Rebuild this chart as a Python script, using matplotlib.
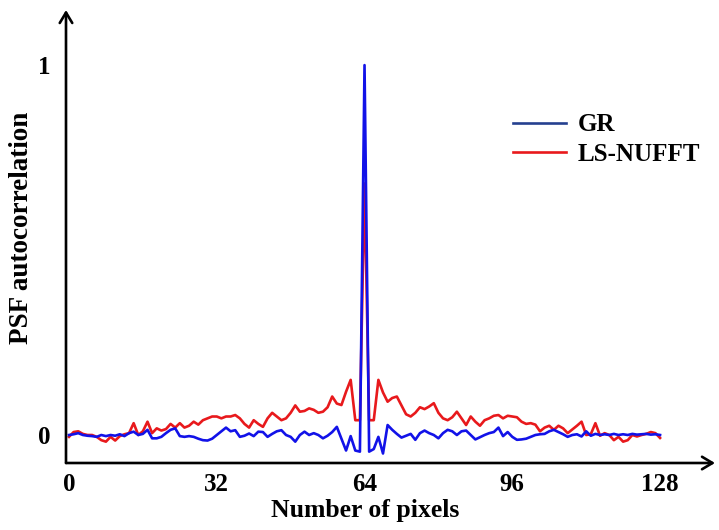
import matplotlib
matplotlib.use("Agg")
import matplotlib.pyplot as plt
from matplotlib.lines import Line2D
import numpy as np

# Pixel index along the profile
pixels = np.arange(129)

# PSF autocorrelation profile, GR method
gr = [
    0.000, 0.002, 0.005, 0.000, -0.002, -0.003, -0.005, 0.000, -0.003, 0.000,
    -0.002, 0.002, -0.003, 0.005, 0.009, 0.000, 0.003, 0.014, -0.009, -0.009,
    -0.005, 0.005, 0.014, 0.018, -0.003, -0.005, -0.003, -0.005, -0.010, -0.014,
    -0.015, -0.010, 0.000, 0.010, 0.020, 0.010, 0.013, -0.005, -0.002, 0.004,
    -0.003, 0.009, 0.008, -0.005, 0.003, 0.010, 0.013, 0.000, -0.005, -0.018,
    0.000, 0.009, 0.000, 0.005, 0.000, -0.009, -0.002, 0.008, 0.022, -0.010,
    -0.042, -0.003, -0.042, -0.045, 1.000, -0.045, -0.038, -0.005, -0.050, 0.027,
    0.014, 0.003, -0.007, -0.002, 0.003, -0.013, 0.005, 0.012, 0.005, 0.000,
    -0.009, 0.005, 0.014, 0.010, 0.000, 0.010, 0.012, 0.000, -0.012, -0.006,
    0.000, 0.005, 0.008, 0.020, -0.003, 0.008, -0.005, -0.013, -0.012, -0.010,
    -0.005, 0.000, 0.002, 0.003, 0.010, 0.014, 0.008, 0.002, -0.005, 0.000,
    0.002, -0.004, 0.010, -0.002, 0.003, 0.000, 0.002, 0.000, 0.003, 0.000,
    0.002, 0.000, 0.003, 0.001, 0.002, 0.003, 0.001, 0.002, 0.000,
]

# PSF autocorrelation profile, LS-NUFFT method
ls_nufft = [
    -0.005, 0.008, 0.010, 0.003, 0.000, 0.000, -0.005, -0.014, -0.018, -0.005,
    -0.015, -0.003, 0.002, 0.005, 0.032, 0.000, 0.010, 0.036, 0.005, 0.018,
    0.012, 0.016, 0.030, 0.020, 0.032, 0.020, 0.025, 0.036, 0.028, 0.040,
    0.045, 0.050, 0.050, 0.045, 0.050, 0.050, 0.054, 0.045, 0.030, 0.020,
    0.040, 0.030, 0.022, 0.045, 0.060, 0.050, 0.040, 0.045, 0.060, 0.080,
    0.063, 0.065, 0.072, 0.068, 0.060, 0.063, 0.075, 0.104, 0.085, 0.081,
    0.117, 0.149, 0.040, 0.040, 0.680, 0.040, 0.040, 0.149, 0.115, 0.090,
    0.100, 0.104, 0.080, 0.056, 0.050, 0.060, 0.075, 0.070, 0.077, 0.086,
    0.060, 0.045, 0.040, 0.048, 0.063, 0.045, 0.027, 0.050, 0.036, 0.025,
    0.040, 0.045, 0.052, 0.054, 0.045, 0.052, 0.050, 0.048, 0.036, 0.030,
    0.032, 0.028, 0.010, 0.020, 0.025, 0.014, 0.025, 0.018, 0.005, 0.015,
    0.025, 0.036, 0.000, 0.002, 0.032, -0.002, 0.005, 0.000, -0.014, -0.005,
    -0.018, -0.014, 0.000, -0.004, 0.000, 0.003, 0.008, 0.005, -0.008,
]

series_names = ["GR", "LS-NUFFT"]
x_ticks = [0, 32, 64, 96, 128]
y_ticks = [0, 1]

plt.rcParams["font.family"] = ["Liberation Serif", "DejaVu Serif"]
plt.rcParams["font.weight"] = "bold"

W, H = 719, 530
fig = plt.figure(figsize=(W / 100, H / 100), dpi=100)
ax = fig.add_axes([66 / W, 67 / H, 649 / W, 453 / H])

red = "#e8191c"
blue = "#1212e8"
ax.plot(pixels, ls_nufft, color=red, lw=1.9)
ax.plot(pixels, gr, color=blue, lw=1.9)

ax.set_xlim(-0.65, 139.9)
ax.set_ylim(-0.0757, 1.149)

for s in ax.spines.values():
    s.set_visible(False)

arrow = dict(arrowstyle="->,head_length=0.75,head_width=0.45", lw=1.9,
             color="black", shrinkA=0, shrinkB=0, mutation_scale=10)
ax.annotate("", xy=(0, 1), xytext=(0, 0), xycoords="axes fraction",
            textcoords="axes fraction", arrowprops=arrow)
ax.annotate("", xy=(1, 0), xytext=(0, 0), xycoords="axes fraction",
            textcoords="axes fraction", arrowprops=arrow)

ax.set_xticks(x_ticks)
ax.set_yticks(y_ticks)
ax.tick_params(axis="both", length=0, labelsize=18)
ax.tick_params(axis="x", pad=7)
ax.tick_params(axis="y", pad=11)
for lab in ax.get_xticklabels() + ax.get_yticklabels():
    lab.set_fontweight("bold")

fig.text(365 / W, 1 - 511 / H, "Number of pixels", ha="center", va="center",
         fontsize=18.5, fontweight="bold")
fig.text(22 / W, 1 - 228 / H, "PSF autocorrelation", ha="center", va="center",
         rotation=90, fontsize=19.5, fontweight="bold")

handles = [Line2D([], [], color="#25408f", lw=1.9),
           Line2D([], [], color=red, lw=1.9)]
leg = ax.legend(handles, series_names, loc="center left",
                bbox_to_anchor=(513 / W, 1 - 139.5 / H),
                bbox_transform=fig.transFigure, frameon=False,
                prop={"size": 18, "weight": "bold"}, handlelength=2.1,
                handletextpad=0.5, labelspacing=0.25, borderpad=0,
                borderaxespad=0)

fig.savefig("out.png", dpi=100)
